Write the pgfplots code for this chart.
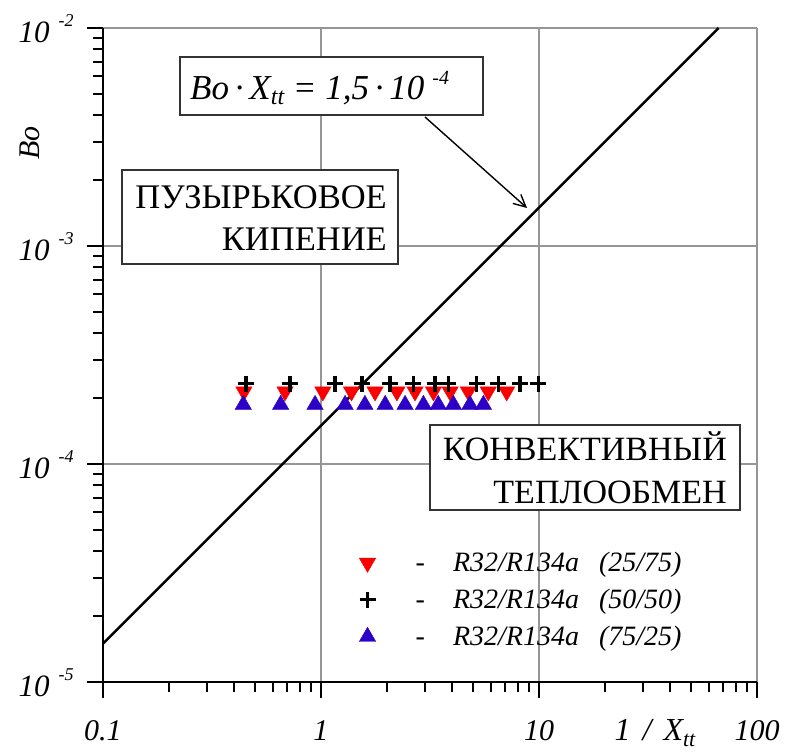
\documentclass[border=0pt]{standalone}
\usepackage{fontspec}
\setmainfont{Liberation Serif}
\usepackage{pgfplots}
\pgfplotsset{compat=1.18}
\usetikzlibrary{arrows.meta}
\definecolor{mred}{RGB}{250,0,0}
\definecolor{mblue}{RGB}{45,0,200}
\definecolor{gridgray}{RGB}{150,150,150}
\newcommand{\tl}[1]{\fontsize{31}{31}\selectfont\itshape 10\hspace{9pt}\raisebox{16pt}{\fontsize{18}{18}\selectfont -#1}}
\begin{document}
\begin{tikzpicture}
\begin{axis}[
  at={(0pt,0pt)}, anchor=south west,
  scale only axis, width=654pt, height=654pt,
  xmode=log, ymode=log,
  xmin=0.1, xmax=100, ymin=1e-5, ymax=1e-2,
  axis lines=left,
  axis line style={-, line width=2.6pt, black},
  tick align=outside,
  major tick length=16pt, minor tick length=10pt,
  every tick/.style={black, line width=2pt},
  grid=major,
  major grid style={gridgray, line width=1.3pt},
  xtick={0.1,1,10,100},
  xticklabels={0.1,1,10,100},
  xticklabel style={font=\fontsize{30}{30}\selectfont\itshape, anchor=base, yshift=-43pt},
  ytick={1e-5,1e-4,1e-3,1e-2},
  yticklabels={\tl{5},\tl{4},\tl{3},\tl{2}},
  yticklabel style={anchor=base east, xshift=-10pt, yshift=-14pt},
  xlabel={1\hspace{12pt}/\hspace{12pt}X\raisebox{-6pt}{\fontsize{22}{22}\selectfont tt}},
  xlabel style={font=\fontsize{32}{32}\selectfont\itshape, at={(rel axis cs:0.844,-0.0887)}, anchor=base},
  ylabel={Bo},
  ylabel style={font=\fontsize{30}{30}\selectfont\itshape, at={(rel axis cs:-0.1116,0.824)}, anchor=center},
  legend style={draw=none, fill=none, at={(rel axis cs:0.387,0.2046)}, anchor=north west,
    font=\fontsize{28}{28}\selectfont\itshape, row sep=12pt},
  legend cell align=left,
  clip=false,
]
\addplot[black, line width=2.4pt, forget plot] coordinates {(0.1,1.5e-5) (66.67,1e-2)};
\addplot[only marks, mark=triangle*, mark size=9.5pt, color=mred, mark options={rotate=180, fill=mred, draw=mred}] coordinates {
(0.443,2.15e-4) (0.684,2.15e-4) (1.02,2.15e-4) (1.38,2.15e-4) (1.77,2.15e-4) (2.23,2.15e-4)
(2.70,2.15e-4) (3.28,2.15e-4) (3.91,2.15e-4) (4.74,2.15e-4) (5.85,2.15e-4) (7.11,2.15e-4)};
\addlegendentry{\hspace{38pt}-\hspace{28pt}R32/R134a\hspace{20pt}(25/75)}
\addplot[only marks, mark=+, mark size=8pt, color=black, mark options={line width=3.4pt}] coordinates {
(0.452,2.34e-4) (0.72,2.34e-4) (1.16,2.34e-4) (1.54,2.34e-4) (2.07,2.34e-4) (2.65,2.34e-4)
(3.33,2.34e-4) (3.84,2.34e-4) (5.18,2.34e-4) (6.5,2.34e-4) (8.18,2.34e-4) (9.93,2.34e-4)};
\addlegendentry{\hspace{38pt}-\hspace{28pt}R32/R134a\hspace{20pt}(50/50)}
\addplot[only marks, mark=triangle*, mark size=9.5pt, color=mblue, mark options={fill=mblue, draw=mblue}] coordinates {
(0.44,1.87e-4) (0.653,1.87e-4) (0.939,1.87e-4) (1.29,1.87e-4) (1.59,1.87e-4) (1.97,1.87e-4)
(2.43,1.87e-4) (2.95,1.87e-4) (3.45,1.87e-4) (4.05,1.87e-4) (4.82,1.87e-4) (5.56,1.87e-4)};
\addlegendentry{\hspace{38pt}-\hspace{28pt}R32/R134a\hspace{20pt}(75/25)}
\end{axis}
% text boxes (pixel -> (x-103, 682-y) pt)
\draw[black!80, line width=1.2pt, fill=white] (77pt,625pt) rectangle (380pt,567pt);
\node[anchor=base west, inner sep=0pt, font=\fontsize{35}{35}\selectfont\itshape] at (87pt,582pt)
  {Bo\,·\,X\raisebox{-5pt}{\fontsize{24}{24}\selectfont tt} = 1,5\,·\,10\hspace{8pt}\raisebox{15pt}{\fontsize{20}{20}\selectfont -4}};
\draw[line width=1.4pt, -{Straight Barb[length=12pt,width=12pt]}] (322pt,565pt) -- (424pt,474pt);
\draw[black!80, line width=1.2pt, fill=white] (19pt,512pt) rectangle (295pt,418pt);
\node[anchor=base east, inner sep=0pt, font=\fontsize{34.5}{34.5}\selectfont] at (284pt,473pt) {ПУЗЫРЬКОВОЕ};
\node[anchor=base east, inner sep=0pt, font=\fontsize{34.5}{34.5}\selectfont] at (284pt,431pt) {КИПЕНИЕ};
\draw[black!80, line width=1.2pt, fill=white] (327pt,257pt) rectangle (637pt,172pt);
\node[anchor=base east, inner sep=0pt, font=\fontsize{34}{34}\selectfont] at (624pt,222pt) {КОНВЕКТИВНЫЙ};
\node[anchor=base east, inner sep=0pt, font=\fontsize{34}{34}\selectfont] at (624pt,179pt) {ТЕПЛООБМЕН};
\path (-103pt,-71pt) rectangle (683pt,682pt);
\end{tikzpicture}
\end{document}
